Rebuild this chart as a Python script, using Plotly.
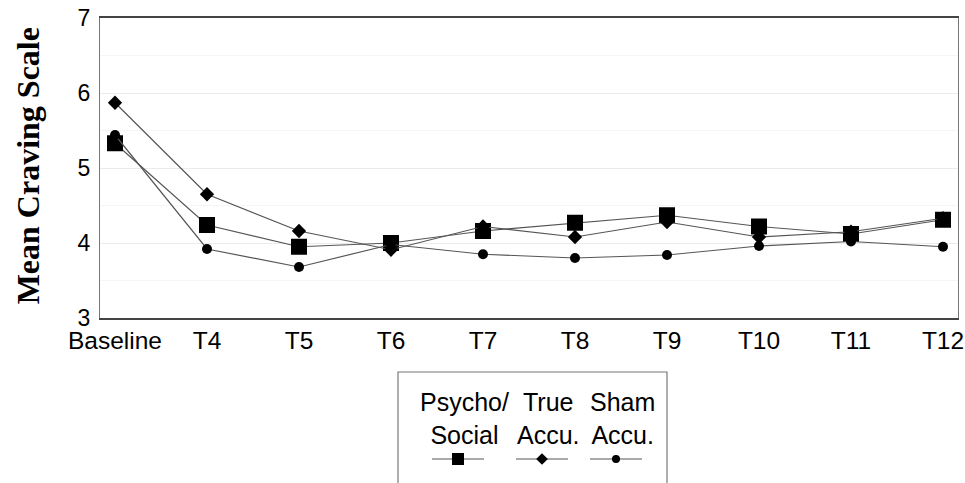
import plotly.graph_objects as go

categories = ["Baseline", "T4", "T5", "T6", "T7", "T8", "T9", "T10", "T11", "T12"]
psycho_social = [5.33, 4.24, 3.95, 4.00, 4.16, 4.27, 4.37, 4.22, 4.12, 4.31]
true_accu = [5.87, 4.65, 4.16, 3.91, 4.22, 4.08, 4.28, 4.08, 4.15, 4.33]
sham_accu = [5.44, 3.92, 3.68, 3.98, 3.85, 3.80, 3.84, 3.96, 4.02, 3.95]
y_ticks = [3, 4, 5, 6, 7]
legend_labels = ["Psycho/<br>Social", "True<br>Accu.", "Sham<br>Accu."]

W, H = 965, 483
FONT = "Liberation Sans, Arial, sans-serif"
LINE = "#555555"

x_idx = list(range(len(categories)))

fig = go.Figure()
series = [
    (psycho_social, "square", 16),
    (true_accu, "diamond", 11),
    (sham_accu, "circle", 10),
]
for vals, sym, sz in series:
    fig.add_trace(go.Scatter(
        x=x_idx, y=vals, mode="lines+markers",
        line=dict(color=LINE, width=1.2),
        marker=dict(symbol=sym, size=sz, color="black", line=dict(width=0)),
        showlegend=False, xaxis="x", yaxis="y",
    ))

# custom legend (samples drawn on an auxiliary pixel-like axis)
leg_cx = [458, 542, 616]
leg_sizes = [12, 9, 8]
for (vals, sym, _), cx, lsz, lab in zip(series, leg_cx, leg_sizes, legend_labels):
    fig.add_trace(go.Scatter(
        x=[cx - 26, cx + 26], y=[459, 459], mode="lines",
        line=dict(color=LINE, width=1), showlegend=False,
        xaxis="x2", yaxis="y2", hoverinfo="skip",
    ))
    fig.add_trace(go.Scatter(
        x=[cx], y=[459], mode="markers",
        marker=dict(symbol=sym, size=lsz, color="black", line=dict(width=0)),
        showlegend=False, xaxis="x2", yaxis="y2", hoverinfo="skip",
    ))
    fig.add_annotation(
        x=cx + 6, y=418, xref="x2", yref="y2", text=lab, showarrow=False,
        font=dict(family=FONT, size=25, color="black"), align="center",
        xanchor="center", yanchor="middle",
    )

# legend frame (bottom edge lies beyond the page, as in the reference)
fig.add_shape(type="path", xref="x2", yref="y2",
              path="M398,483 L398,372 L667,372 L667,483",
              line=dict(color="#777777", width=1.2))

plot_bottom_px = 318
ydom0 = (H - plot_bottom_px) / (H - 18)

fig.update_layout(
    width=W, height=H,
    margin=dict(l=100, r=7, t=18, b=0),
    paper_bgcolor="white", plot_bgcolor="white",
    showlegend=False,
    xaxis=dict(
        domain=[0, 1], range=[-0.163, 9.163],
        tickmode="array", tickvals=x_idx, ticktext=categories,
        tickfont=dict(family=FONT, size=24.5, color="black"),
        showgrid=False, zeroline=False, ticks="",
        showline=True, linecolor="#444444", linewidth=1.5, mirror=True,
        anchor="y", automargin=False,
    ),
    yaxis=dict(
        domain=[ydom0, 1], range=[3, 7],
        tickmode="array", tickvals=y_ticks,
        tickfont=dict(family=FONT, size=23, color="black"),
        showgrid=True, gridcolor="#ebebeb", gridwidth=1,
        minor=dict(tickvals=[3.5, 4.5, 5.5, 6.5], showgrid=True, gridcolor="#f5f5f5"),
        zeroline=False, ticks="", ticklabelstandoff=4,
        showline=True, linecolor="#777777", linewidth=1.2, mirror=True,
        anchor="x", automargin=False,
    ),
    xaxis2=dict(domain=[0, 1], range=[100, 958], visible=False, anchor="y2",
                fixedrange=True, automargin=False),
    yaxis2=dict(domain=[0, 0.3], range=[483, 343.5], visible=False, anchor="x2",
                fixedrange=True, automargin=False),
)

fig.add_annotation(
    x=-0.084, y=0.683, xref="paper", yref="paper", text="<b>Mean Craving Scale</b>",
    textangle=-90, showarrow=False, xanchor="center", yanchor="middle",
    font=dict(family="Liberation Serif, Times New Roman, serif", size=32, color="black"),
)

fig.write_html("out.html", config={"displayModeBar": False},
               post_script="document.body.style.margin='0';")
